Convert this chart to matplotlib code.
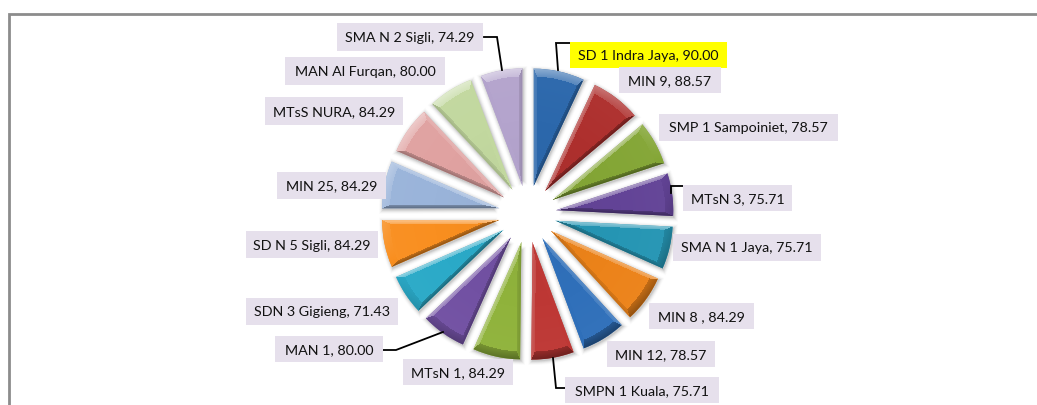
import numpy as np
import matplotlib
matplotlib.use("Agg")
import matplotlib.pyplot as plt
from matplotlib.patches import Rectangle

categories = ["SD 1 Indra Jaya", "MIN 9", "SMP 1 Sampoiniet", "MTsN 3", "SMA N 1 Jaya",
              "MIN 8 ", "MIN 12", "SMPN 1 Kuala", "MTsN 1", "MAN 1", "SDN 3 Gigieng",
              "SD N 5 Sigli", "MIN 25", "MTsS NURA", "MAN Al Furqan", "SMA N 2 Sigli"]
values = [90.00, 88.57, 78.57, 75.71, 75.71, 84.29, 78.57, 75.71,
          84.29, 80.00, 71.43, 84.29, 84.29, 84.29, 80.00, 74.29]

colors = ["#2C68AC", "#AE302E", "#84A636", "#634497", "#2696B4", "#EC831A",
          "#3070BA", "#BE3835", "#90B33C", "#7251A3", "#2BAAC8", "#F98F20",
          "#9AB4DA", "#E0A2A1", "#C2D89F", "#B4A4CD"]
label_boxes = [(570, 42, 727, 68), (619, 67, 721, 93), (659, 114, 838, 141), (683, 185, 792, 211),
               (673, 234, 821, 261), (649, 303, 754, 329), (607, 341, 715, 367), (565, 377, 719, 403),
               (403, 359, 513, 385), (275, 336, 383, 362), (246, 298, 398, 325), (246, 231, 378, 258),
               (277, 172, 386, 199), (265, 97, 403, 125), (285, 57, 445, 85), (337, 23, 483, 51)]
leaders = [[(558, 70), (556, 43), (570, 43)],
           [(484, 37), (497, 37), (502, 70)],
           [(671, 193), (671, 186), (683, 186)],
           [(553, 358), (556, 388), (565, 388)],
           [(443, 332), (396, 350), (383, 350)]]

W, H = 1037, 405
plt.rcParams['font.family'] = ['Lato', 'DejaVu Sans']
fig = plt.figure(figsize=(W / 100, H / 100), dpi=100, facecolor="white")
ax = fig.add_axes([0, 0, 1, 1])


def Y(y):
    return H - y


wedges, _ = ax.pie(values, colors=colors, startangle=90, counterclock=False,
                   center=(527.5, Y(214)), radius=117, explode=[29] * len(values),
                   wedgeprops=dict(linewidth=0, zorder=2), frame=True)


def geometry(w, X, Yg):
    cx, cy = w.center
    px, py = X - cx, Yg - cy
    r = np.hypot(px, py) + 1e-6
    a1, a2 = np.radians(w.theta1), np.radians(w.theta2)
    u1 = np.cos(a1), np.sin(a1)
    u2 = np.cos(a2), np.sin(a2)
    am = (a1 + a2) / 2
    d1 = u1[0] * py - u1[1] * px
    d2 = px * u2[1] - py * u2[0]
    d3 = w.r - r
    d4 = px * np.cos(am) + py * np.sin(am)
    n1 = (u1[1], -u1[0])
    n2 = (-u2[1], u2[0])
    return px, py, r, d1, d2, d3, d4, n1, n2


light = np.array([-0.35, 0.94])
for w in wedges:
    cx, cy = w.center
    x0, x1 = int(cx - w.r - 14), int(cx + w.r + 14)
    y0, y1 = int(cy - w.r - 14), int(cy + w.r + 14)
    X, Yg = np.meshgrid(np.arange(x0, x1) + 0.5, np.arange(y0, y1) + 0.5)
    ext = (x0, x1, y0, y1)

    # soft drop shadow
    _, _, _, d1, d2, d3, d4, _, _ = geometry(w, X - 1, Yg + 1.5)
    d = np.minimum.reduce([d1, d2, d3, d4 - 6])
    sh = np.zeros(X.shape + (4,))
    sh[..., :3] = 0.3
    sh[..., 3] = 0.30 * np.clip((d + 5) / 5, 0, 1) ** 2
    ax.imshow(sh, extent=ext, origin="lower", interpolation="bilinear", aspect="equal", zorder=1)

    # bevelled face
    px, py, r, d1, d2, d3, d4, n1, n2 = geometry(w, X, Yg)
    base = np.array(matplotlib.colors.to_rgb(w.get_facecolor()))
    e = np.stack([d1 / 3.5, d2 / 3.5, d3 / 8.0])
    facet = np.argmin(e, axis=0)
    emin = np.min(e, axis=0)
    nx = np.choose(facet, [np.full(X.shape, n1[0]), np.full(X.shape, n2[0]), px / r])
    ny = np.choose(facet, [np.full(X.shape, n1[1]), np.full(X.shape, n2[1]), py / r])
    s = (nx * light[0] + ny * light[1]) * np.where(emin < 1, 1.0, 0.0)
    s = s * (1 - 0.45 * np.clip(emin, 0, 1))
    rim = np.clip(1 - d4 / w.r, 0, 1)
    shade = s + np.where(emin >= 1, 0.10 * (0.45 - rim), 0)
    img = np.zeros(X.shape + (4,))
    for c in range(3):
        up = base[c] + (1 - base[c]) * np.clip(shade, 0, 1) * 0.5
        down = base[c] * (1 - np.clip(-shade, 0, 1) * 0.42)
        img[..., c] = np.where(shade >= 0, up, down)
    img[..., 3] = np.clip(np.minimum.reduce([d1, d2, d3, d4]) + 0.5, 0, 1)
    ax.imshow(img, extent=ext, origin="lower", interpolation="nearest", aspect="equal", zorder=3)

for pts in leaders:
    xs, ys = zip(*pts)
    ax.plot(xs, [Y(v) for v in ys], color="black", lw=1.3, zorder=4, solid_joinstyle="miter")

for i, (cat, val) in enumerate(zip(categories, values)):
    x0, y0, x1, y1 = label_boxes[i]
    ax.add_patch(Rectangle((x0, Y(y1)), x1 - x0, y1 - y0, lw=0,
                           fc="#FFFF00" if i == 0 else "#E6E0EC", zorder=5))
    ax.text((x0 + x1) / 2, Y((y0 + y1) / 2), f"{cat}, {val:.2f}", ha="center", va="center_baseline",
            fontsize=10.3, color="#111111", zorder=6)

# outer frame
ax.plot([9, 9, W], [0, Y(14), Y(14)], color="#8C8C8C", lw=2, zorder=0, solid_joinstyle="miter")

ax.set_xlim(0, W)
ax.set_ylim(0, H)
ax.set_aspect("equal")
ax.set_xticks([])
ax.set_yticks([])
ax.set_frame_on(False)
fig.savefig("out.png", dpi=100, facecolor="white")
